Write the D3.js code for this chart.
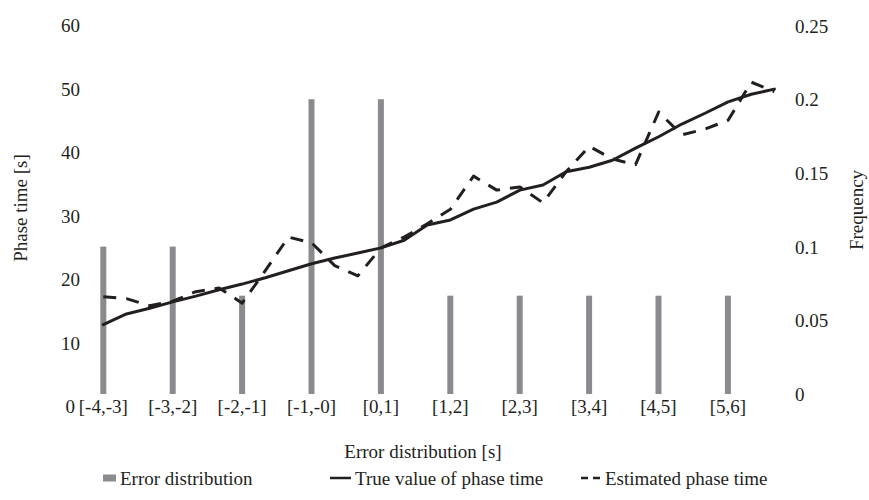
<!DOCTYPE html>
<html>
<head>
<meta charset="utf-8">
<script src="https://cdn.jsdelivr.net/npm/d3@7"></script>
<style>
  html, body { margin: 0; padding: 0; background: #fff; }
  svg { display: block; }
  text { font-family: "Liberation Serif", "Times New Roman", serif; font-size: 19px; fill: #231f20; }
</style>
</head>
<body>
<svg id="chart" width="869" height="500"></svg>
<script>
// ---- data ----
const categories = ["[-4,-3]", "[-3,-2]", "[-2,-1]", "[-1,-0]", "[0,1]", "[1,2]", "[2,3]", "[3,4]", "[4,5]", "[5,6]"];
const frequency = [0.1, 0.1, 0.0667, 0.2, 0.2, 0.0667, 0.0667, 0.0667, 0.0667, 0.0667];
const trueTime = [12.8, 14.5, 15.4, 16.4, 17.3, 18.3, 19.2, 20.2, 21.3, 22.4,
                  23.3, 24.1, 24.9, 26.1, 28.5, 29.3, 31.0, 32.1, 34.0, 34.8,
                  36.9, 37.6, 38.7, 40.6, 42.4, 44.4, 46.1, 47.9, 49.1, 49.9];
const estimatedTime = [17.2, 16.9, 15.8, 16.5, 18.0, 18.6, 16.2, 21.3, 26.6, 25.7,
                       22.1, 20.5, 24.9, 26.6, 28.7, 31.0, 36.2, 34.0, 34.5, 32.0,
                       36.9, 40.9, 38.9, 38.0, 46.3, 42.7, 43.6, 45.0, 51.0, 49.5];
const leftTicks = [0, 10, 20, 30, 40, 50, 60];
const rightTicks = [0, 0.05, 0.1, 0.15, 0.2, 0.25];
const legendLabels = ["Error distribution", "True value of phase time", "Estimated phase time"];

// ---- scales ----
const svg = d3.select("#chart");
const x = d3.scaleBand(categories, [68.6, 762.6]).padding(0);
const xLine = d3.scaleLinear([0, trueTime.length - 1], [103.3, 774.4]);
const yL = d3.scaleLinear([0, 60], [406, 25]);
const yR = d3.scaleLinear([0, 0.25], [394, 25.5]);

const barColor = "#8b8b8f";
const lineColor = "#231f20";

// bars
const barW = 6;
svg.append("g").selectAll("rect").data(frequency).join("rect")
  .attr("x", (d, i) => x(categories[i]) + x.bandwidth() / 2 - barW / 2)
  .attr("width", barW)
  .attr("y", d => yR(d))
  .attr("height", d => yR(0) - yR(d))
  .attr("fill", barColor);

// lines
const line = d3.line().x((d, i) => xLine(i)).y(d => yL(d));
svg.append("path").datum(trueTime)
  .attr("d", line).attr("fill", "none")
  .attr("stroke", lineColor).attr("stroke-width", 3)
  .attr("stroke-linejoin", "round").attr("stroke-linecap", "round");
svg.append("path").datum(estimatedTime)
  .attr("d", line).attr("fill", "none")
  .attr("stroke", lineColor).attr("stroke-width", 3)
  .attr("stroke-dasharray", "13,10")
  .attr("stroke-linejoin", "round");

// left axis labels
const gL = svg.append("g").attr("transform", "translate(80,0)")
  .call(d3.axisLeft(yL).tickValues(leftTicks).tickSize(0).tickPadding(0).tickFormat(d3.format("d")));
gL.select(".domain").remove();
gL.selectAll("text").attr("font-size", null).attr("font-family", null).attr("fill", null)
  .attr("x", d => d === 0 ? -5 : 0).attr("dy", "0.35em");

// right axis labels
const gR = svg.append("g").attr("transform", "translate(795,0)")
  .call(d3.axisRight(yR).tickValues(rightTicks).tickSize(0).tickPadding(0).tickFormat(d => d === 0 ? "0" : String(+d.toFixed(2))));
gR.select(".domain").remove();
gR.selectAll("text").attr("font-size", null).attr("font-family", null).attr("fill", null)
  .attr("dy", "0.35em");

// bottom category labels
const gB = svg.append("g").attr("transform", "translate(0,406)")
  .call(d3.axisBottom(x).tickSize(0).tickPadding(0));
gB.select(".domain").remove();
gB.selectAll("text").attr("font-size", null).attr("font-family", null).attr("fill", null)
  .attr("y", 0).attr("dy", "0.35em");

// axis titles
svg.append("text").attr("x", 423).attr("y", 451).attr("dy", "0.35em")
  .attr("text-anchor", "middle").text("Error distribution [s]");
svg.append("text").attr("transform", "translate(20,208) rotate(-90)").attr("dy", "0.35em")
  .attr("text-anchor", "middle").text("Phase time [s]");
svg.append("text").attr("transform", "translate(856,210) rotate(-90)").attr("dy", "0.35em")
  .attr("text-anchor", "middle").text("Frequency");

// legend
const ly = 478;
const lg = svg.append("g");
lg.append("rect").attr("x", 103).attr("y", ly - 3.5).attr("width", 13).attr("height", 7).attr("fill", barColor);
lg.append("text").attr("x", 120).attr("y", ly).attr("dy", "0.35em").text(legendLabels[0]);
lg.append("line").attr("x1", 330).attr("x2", 351).attr("y1", ly).attr("y2", ly)
  .attr("stroke", lineColor).attr("stroke-width", 2.5);
lg.append("text").attr("x", 355).attr("y", ly).attr("dy", "0.35em").text(legendLabels[1]);
lg.append("line").attr("x1", 581).attr("x2", 601).attr("y1", ly).attr("y2", ly)
  .attr("stroke", lineColor).attr("stroke-width", 2.5).attr("stroke-dasharray", "7,5");
lg.append("text").attr("x", 605).attr("y", ly).attr("dy", "0.35em").text(legendLabels[2]);
</script>
</body>
</html>
